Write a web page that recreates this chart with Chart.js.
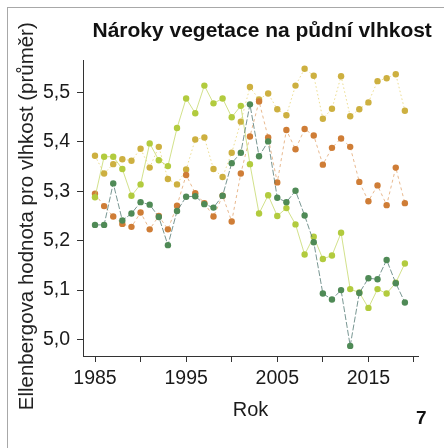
<!DOCTYPE html>
<html>
<head>
<meta charset="utf-8">
<script src="https://cdn.jsdelivr.net/npm/chart.js@4.4.1/dist/chart.umd.min.js"></script>
<style>
html,body{margin:0;padding:0;background:#fff;}
#wrap{position:relative;width:444px;height:448px;overflow:hidden;background:#fff;}
#frame{position:absolute;left:7px;top:7px;width:460px;height:460px;border-left:1px solid #a8a8a8;border-top:1px solid #a8a8a8;}
canvas{position:absolute;left:0;top:0;}
.txt{position:absolute;white-space:nowrap;font-family:"Liberation Sans",Arial,sans-serif;}
#title{font-weight:bold;font-size:20.5px;color:#111;}
#ytitle{font-size:21px;color:#222;transform-origin:50% 50%;}
#num{left:416px;top:408px;line-height:20px;font-weight:bold;font-size:19px;color:#111;}
</style>
</head>
<body>
<div id="wrap">
  <canvas id="c" width="444" height="448"></canvas>
  <div id="frame"></div>
  <span id="title" class="txt">Nároky vegetace na půdní vlhkost</span>
  <span id="ytitle" class="txt">Ellenbergova hodnota pro vlhkost (průměr)</span>
  <span id="num" class="txt">7</span>
</div>
<script>
const years = [1985,1986,1987,1988,1989,1990,1991,1992,1993,1994,1995,1996,1997,1998,1999,2000,2001,2002,2003,2004,2005,2006,2007,2008,2009,2010,2011,2012,2013,2014,2015,2016,2017,2018,2019];
const seriesGold = [5.372,5.336,5.355,5.365,5.362,5.386,5.348,5.390,5.325,5.314,5.344,5.405,5.409,5.345,5.329,5.378,5.441,5.511,5.486,5.498,5.466,5.454,5.514,5.548,5.534,5.447,5.467,5.533,5.452,5.466,5.480,5.523,5.529,5.537,5.463];
const seriesOrange = [5.295,5.270,5.249,5.234,5.228,5.257,5.223,5.250,5.223,5.271,5.333,5.296,5.276,5.249,5.291,5.239,5.336,5.411,5.482,5.409,5.318,5.424,5.385,5.426,5.413,5.354,5.388,5.407,5.390,5.319,5.280,5.312,5.272,5.348,5.276];
const seriesLightGreen = [5.288,5.370,5.370,5.345,5.291,5.314,5.397,5.363,5.351,5.428,5.488,5.458,5.514,5.478,5.488,5.450,5.473,5.355,5.255,5.292,5.250,5.266,5.233,5.172,5.208,5.163,5.170,5.216,5.102,5.095,5.064,5.102,5.093,5.115,5.154];
const seriesDarkGreen = [5.232,5.232,5.316,5.241,5.255,5.278,5.273,5.248,5.191,5.260,5.289,5.290,5.274,5.267,5.291,5.357,5.378,5.476,5.371,5.401,5.287,5.278,5.301,5.251,5.197,5.093,5.081,5.100,4.987,5.094,5.124,5.122,5.161,5.114,5.075];
const xTicks = [1985,1990,1995,2000,2005,2010,2015,2020];
const xTickLabels = ['1985','','1995','','2005','','2015',''];
const yTicks = [5.0,5.1,5.2,5.3,5.4,5.5];
const yTickLabels = ['5,0','5,1','5,2','5,3','5,4','5,5'];

// fit HTML titles to the reference's text extents
function fit(el, targetW) {
  const fs = parseFloat(getComputedStyle(el).fontSize);
  const w = el.offsetWidth;
  const nf = fs * targetW / w;
  el.style.fontSize = nf + 'px';
  el.style.lineHeight = nf + 'px';
  return nf;
}
(function placeTexts(){
  const t = document.getElementById('title');
  const ft = fit(t, 340);
  t.style.left = (262 - t.offsetWidth / 2) + 'px';
  t.style.top = (37 - 0.8465 * ft) + 'px';
  const y = document.getElementById('ytitle');
  const fy = fit(y, 388);
  const cx = 33 - 0.3465 * fy, cy = 216;
  y.style.left = (cx - y.offsetWidth / 2) + 'px';
  y.style.top = (cy - y.offsetHeight / 2) + 'px';
  y.style.transform = 'rotate(-90deg)';
})();

const toPts = arr => years.map((yr, i) => ({x: yr, y: arr[i]}));
const FONT = "'Liberation Sans', Arial, sans-serif";

function ds(arr, pointColor, lineColor, dash) {
  return {
    data: toPts(arr),
    showLine: true,
    borderColor: lineColor,
    borderWidth: 1,
    borderDash: dash,
    pointRadius: 3.2,
    pointBackgroundColor: pointColor,
    pointBorderColor: pointColor,
    pointBorderWidth: 0,
    tension: 0
  };
}

new Chart(document.getElementById('c'), {
  type: 'scatter',
  data: {
    datasets: [
      ds(seriesDarkGreen, '#4f8a56', 'rgba(75,115,110,0.75)', [6,2]),
      ds(seriesLightGreen, '#b2cb3e', 'rgba(195,215,100,0.75)', []),
      ds(seriesOrange, '#cf7d36', 'rgba(222,155,95,0.7)', [3,3]),
      ds(seriesGold, '#cdb040', 'rgba(230,208,105,0.75)', [1.5,2.5])
    ]
  },
  options: {
    responsive: false,
    animation: false,
    devicePixelRatio: 1,
    layout: {padding: {left: 8, right: 26, top: 60, bottom: 0}},
    plugins: {legend: {display: false}, tooltip: {enabled: false}, title: {display: false}},
    scales: {
      x: {
        type: 'linear',
        min: 1983.683,
        max: 2020.44,
        afterBuildTicks: s => { s.ticks = xTicks.map(v => ({value: v})); },
        afterFit: s => { s.height = 92; },
        grid: {drawOnChartArea: false, drawTicks: true, tickLength: 6, color: '#333'},
        border: {color: '#333', width: 1},
        ticks: {
          padding: 5,
          color: '#1a1a1a',
          font: {family: FONT, size: 19.5},
          maxRotation: 0,
          autoSkip: false,
          callback: (v) => { const i = xTicks.indexOf(v); return i >= 0 ? xTickLabels[i] : ''; }
        },
        title: {display: true, text: 'Rok', color: '#1a1a1a', font: {family: FONT, size: 20}, padding: {top: 0, bottom: 26}}
      },
      y: {
        type: 'linear',
        min: 4.9666,
        max: 5.5658,
        afterBuildTicks: s => { s.ticks = yTicks.map(v => ({value: v})); },
        afterFit: s => { s.width = 75; },
        grid: {drawOnChartArea: false, drawTicks: true, tickLength: 6, color: '#333'},
        border: {color: '#333', width: 1},
        ticks: {
          padding: 7,
          color: '#1a1a1a',
          font: {family: FONT, size: 19.5},
          autoSkip: false,
          callback: (v) => { const i = yTicks.findIndex(t => Math.abs(t - v) < 1e-6); return i >= 0 ? yTickLabels[i] : ''; }
        }
      }
    }
  }
});
</script>
</body>
</html>
